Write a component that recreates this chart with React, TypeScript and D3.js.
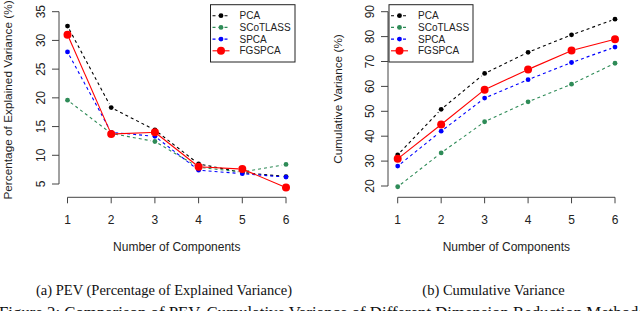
import React from "react";
import * as d3 from "d3";

const components = [1, 2, 3, 4, 5, 6];
const methods = ["PCA", "SCoTLASS", "SPCA", "FGSPCA"];
const colors = ["#000000", "#2E8B57", "#0000FF", "#FF0000"];

// percentage of explained variance per component
const pevPCA = [32.5, 18.3, 14.4, 8.5, 7.0, 6.3];
const pevSCoTLASS = [19.6, 13.8, 12.4, 7.9, 7.1, 8.4];
const pevSPCA = [28.0, 14.0, 13.3, 7.4, 6.8, 6.2];
const pevFGSPCA = [31.0, 13.7, 14.0, 8.0, 7.6, 4.4];

// cumulative variance
const cumPCA = [32.5, 50.8, 65.2, 73.7, 80.7, 87.0];
const cumSCoTLASS = [19.7, 33.3, 45.8, 53.8, 60.9, 69.3];
const cumSPCA = [28.0, 42.0, 55.3, 62.7, 69.6, 75.8];
const cumFGSPCA = [30.9, 44.7, 58.7, 66.8, 74.4, 78.9];

const pevTicks = [5, 10, 15, 20, 25, 30, 35];
const cumTicks = [20, 30, 40, 50, 60, 70, 80, 90];

const sans = "'Liberation Sans', Arial, Helvetica, sans-serif";
const serif = "'Liberation Serif', 'Times New Roman', serif";

type PanelProps = {
  series: number[][];
  yTicks: number[];
  x0: number;
  x1: number;
  yTop: number;
  yBottom: number;
  axisX: number;
  axisY: number;
  ylabel: string;
  ylabelX: number;
  ylabelY: number;
  legend: { x: number; y: number; w: number; h: number };
};

// R's type="b": segments stop short of the points
const gapSegment = (ax: number, ay: number, bx: number, by: number, gap: number) => {
  const dx = bx - ax, dy = by - ay;
  const len = Math.sqrt(dx * dx + dy * dy);
  if (len <= 2 * gap) return null;
  const ux = dx / len, uy = dy / len;
  return [ax + ux * gap, ay + uy * gap, bx - ux * gap, by - uy * gap];
};

const Panel = ({ series, yTicks, x0, x1, yTop, yBottom, axisX, axisY, ylabel, ylabelX, ylabelY, legend }: PanelProps) => {
  const x = d3.scaleLinear().domain([1, 6]).range([x0, x1]);
  const y = d3
    .scaleLinear()
    .domain([yTicks[0], yTicks[yTicks.length - 1]])
    .range([yBottom, yTop]);

  return (
    <g>
      {/* series */}
      {series.map((vals, si) => {
        const isRed = si === 3;
        return (
          <g key={"s" + si}>
            {vals.slice(1).map((v, i) => {
              const seg = gapSegment(x(components[i]), y(vals[i]), x(components[i + 1]), y(v), 4);
              if (!seg) return null;
              return (
                <line
                  key={"l" + i}
                  x1={seg[0]}
                  y1={seg[1]}
                  x2={seg[2]}
                  y2={seg[3]}
                  stroke={colors[si]}
                  strokeWidth={1.1}
                  strokeDasharray={isRed ? undefined : "3,3"}
                />
              );
            })}
            {vals.map((v, i) => (
              <circle key={"p" + i} cx={x(components[i])} cy={y(v)} r={isRed ? 4 : 2.4} fill={colors[si]} />
            ))}
          </g>
        );
      })}

      {/* y axis */}
      <line x1={axisX} x2={axisX} y1={y(yTicks[0])} y2={y(yTicks[yTicks.length - 1])} stroke="#444" />
      {yTicks.map(t => (
        <g key={"yt" + t}>
          <line x1={axisX - 7} x2={axisX} y1={y(t)} y2={y(t)} stroke="#444" />
          <text
            transform={`translate(${axisX - 14},${y(t)}) rotate(-90)`}
            textAnchor="middle"
            fontSize={12}
            fontFamily={sans}
            fill="#222"
          >
            {t}
          </text>
        </g>
      ))}

      {/* x axis */}
      <line x1={x(1)} x2={x(6)} y1={axisY} y2={axisY} stroke="#444" />
      {components.map(c => (
        <g key={"xt" + c}>
          <line x1={x(c)} x2={x(c)} y1={axisY} y2={axisY + 6} stroke="#444" />
          <text x={x(c)} y={224} textAnchor="middle" fontSize={12} fontFamily={sans} fill="#222">
            {c}
          </text>
        </g>
      ))}

      <text x={(x0 + x1) / 2} y={251} textAnchor="middle" fontSize={12} fontFamily={sans} fill="#222">
        Number of Components
      </text>
      <text
        transform={`translate(${ylabelX},${ylabelY}) rotate(-90)`}
        textAnchor="middle"
        fontSize={11.8}
        fontFamily={sans}
        fill="#222"
      >
        {ylabel}
      </text>

      {/* legend */}
      <rect x={legend.x} y={legend.y} width={legend.w} height={legend.h} fill="white" stroke="#222" />
      {methods.map((m, i) => {
        const ry = legend.y + 11 + i * 11.7;
        const isRed = i === 3;
        return (
          <g key={"lg" + m}>
            <line
              x1={legend.x + 2}
              x2={legend.x + 19}
              y1={ry}
              y2={ry}
              stroke={colors[i]}
              strokeWidth={1.1}
              strokeDasharray={isRed ? undefined : "3,3"}
            />
            <circle cx={legend.x + 10.5} cy={ry} r={isRed ? 4 : 2.4} fill={colors[i]} />
            <text x={legend.x + 29} y={ry + 3.6} fontSize={10} fontFamily={sans} fill="#222">
              {m}
            </text>
          </g>
        );
      })}
    </g>
  );
};

const App = () => {
  return (
    <svg width={640} height={311} style={{ position: "absolute", left: 0, top: 0, background: "white" }}>
      <Panel
        series={[pevPCA, pevSCoTLASS, pevSPCA, pevFGSPCA]}
        yTicks={pevTicks}
        x0={67.5}
        x1={286}
        yTop={11.7}
        yBottom={184}
        axisX={59}
        axisY={197.3}
        ylabel="Percentage of Explained Variance (%)"
        ylabelX={12}
        ylabelY={100}
        legend={{ x: 210.5, y: 4.7, w: 84.5, h: 57.3 }}
      />
      <Panel
        series={[cumPCA, cumSCoTLASS, cumSPCA, cumFGSPCA]}
        yTicks={cumTicks}
        x0={397.7}
        x1={615}
        yTop={11.7}
        yBottom={186}
        axisX={388}
        axisY={197.3}
        ylabel="Cumulative Variance (%)"
        ylabelX={342}
        ylabelY={99}
        legend={{ x: 389, y: 4.7, w: 84, h: 57.3 }}
      />
      <text x={164} y={295} textAnchor="middle" fontSize={14.5} fontFamily={serif} fill="#111">
        (a) PEV (Percentage of Explained Variance)
      </text>
      <text x={493.5} y={295} textAnchor="middle" fontSize={14.5} fontFamily={serif} fill="#111">
        (b) Cumulative Variance
      </text>
      <text x={-1} y={318} fontSize={16.8} fontFamily={serif} fill="#111">
        Figure 2: Comparison of PEV, Cumulative Variance of Different Dimension Reduction Methods
      </text>
    </svg>
  );
};

export default App;
